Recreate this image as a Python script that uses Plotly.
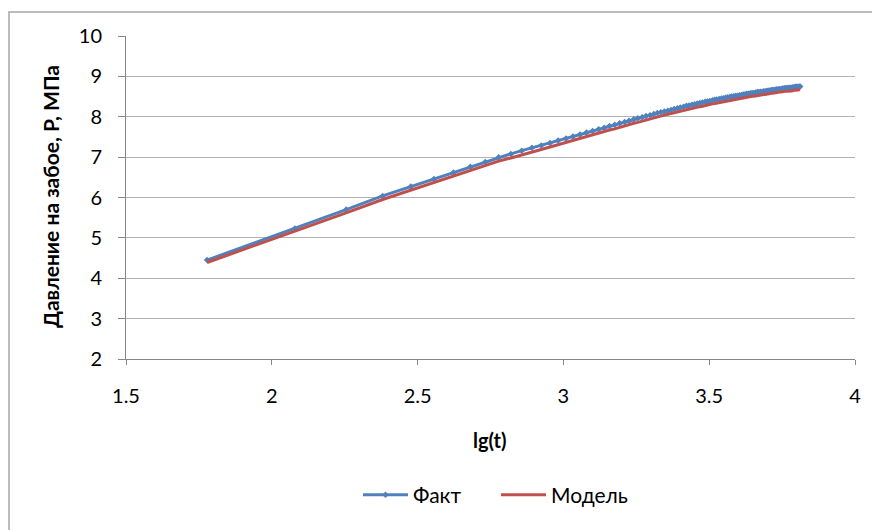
import plotly.graph_objects as go

# lg(t) values
lg_t = [1.778, 2.079, 2.255, 2.380, 2.477, 2.556, 2.623, 2.681, 2.732, 2.778,
        2.820, 2.857, 2.892, 2.924, 2.954, 2.982, 3.009, 3.033, 3.057, 3.079,
        3.100, 3.121, 3.140, 3.158, 3.176, 3.193, 3.210, 3.225, 3.241, 3.255,
        3.270, 3.283, 3.297, 3.310, 3.322, 3.334, 3.346, 3.358, 3.369, 3.380,
        3.391, 3.401, 3.412, 3.422, 3.431, 3.441, 3.450, 3.459, 3.468, 3.477,
        3.486, 3.494, 3.502, 3.511, 3.519, 3.526, 3.534, 3.542, 3.549, 3.556,
        3.563, 3.571, 3.577, 3.584, 3.591, 3.598, 3.604, 3.611, 3.617, 3.623,
        3.629, 3.635, 3.641, 3.647, 3.653, 3.659, 3.665, 3.670, 3.676, 3.681,
        3.687, 3.692, 3.697, 3.702, 3.708, 3.713, 3.718, 3.723, 3.728, 3.732,
        3.737, 3.742, 3.747, 3.751, 3.756, 3.760, 3.765, 3.769, 3.774, 3.778,
        3.783, 3.787, 3.791, 3.795, 3.799, 3.804, 3.808, 3.812]

fact = [4.45, 5.23, 5.70, 6.04, 6.27, 6.46, 6.62, 6.76, 6.88, 7.00,
        7.08, 7.16, 7.23, 7.29, 7.35, 7.41, 7.46, 7.51, 7.56, 7.61,
        7.65, 7.69, 7.73, 7.77, 7.80, 7.84, 7.87, 7.90, 7.94, 7.96,
        7.99, 8.02, 8.04, 8.07, 8.09, 8.11, 8.13, 8.15, 8.17, 8.19,
        8.21, 8.23, 8.25, 8.27, 8.28, 8.30, 8.31, 8.33, 8.34, 8.35,
        8.37, 8.38, 8.39, 8.41, 8.42, 8.43, 8.44, 8.45, 8.46, 8.47,
        8.48, 8.49, 8.50, 8.51, 8.52, 8.52, 8.53, 8.54, 8.55, 8.56,
        8.57, 8.57, 8.58, 8.59, 8.59, 8.60, 8.61, 8.61, 8.62, 8.62,
        8.63, 8.63, 8.64, 8.65, 8.65, 8.66, 8.66, 8.67, 8.67, 8.68,
        8.68, 8.69, 8.69, 8.70, 8.70, 8.71, 8.71, 8.71, 8.72, 8.72,
        8.72, 8.73, 8.73, 8.74, 8.74, 8.74, 8.75, 8.75]

model = [4.39, 5.16, 5.62, 5.95, 6.18, 6.37, 6.53, 6.67, 6.79, 6.90,
         6.98, 7.06, 7.13, 7.19, 7.25, 7.31, 7.36, 7.41, 7.46, 7.51,
         7.55, 7.59, 7.63, 7.67, 7.70, 7.74, 7.77, 7.80, 7.84, 7.86,
         7.89, 7.93, 7.95, 7.98, 8.00, 8.02, 8.04, 8.06, 8.08, 8.10,
         8.12, 8.14, 8.16, 8.18, 8.19, 8.21, 8.22, 8.24, 8.25, 8.26,
         8.28, 8.29, 8.30, 8.32, 8.33, 8.34, 8.36, 8.37, 8.38, 8.39,
         8.40, 8.41, 8.42, 8.43, 8.44, 8.44, 8.45, 8.46, 8.47, 8.48,
         8.49, 8.49, 8.50, 8.51, 8.51, 8.52, 8.53, 8.53, 8.54, 8.54,
         8.55, 8.55, 8.56, 8.57, 8.57, 8.58, 8.58, 8.59, 8.59, 8.60,
         8.60, 8.61, 8.61, 8.62, 8.62, 8.63, 8.63, 8.63, 8.64, 8.64,
         8.64, 8.65, 8.65, 8.66, 8.66, 8.66, 8.67, 8.67]

series_names = ["Факт", "Модель"]
x_title = "lg(t)"
y_title = "Давление на забое, P, МПа"

BLUE = "#4F81BD"
RED = "#C0504D"
FONT = "Lato"

fig = go.Figure()
fig.add_trace(go.Scatter(x=lg_t, y=fact, mode="lines+markers", name=series_names[0],
                         line=dict(color=BLUE, width=3),
                         marker=dict(symbol="diamond", size=5, color=BLUE)))
fig.add_trace(go.Scatter(x=lg_t, y=model, mode="lines", name=series_names[1],
                         line=dict(color=RED, width=3)))

L, R, T, B = 126, 17, 36, 171
W, H = 872, 530
pw, ph = W - L - R, H - T - B

def px_x(p):
    return (p - L) / pw

def px_y(p):
    return (H - B - p) / ph

fig.update_layout(
    width=W, height=H,
    margin=dict(l=L, r=R, t=T, b=B),
    paper_bgcolor="white", plot_bgcolor="white",
    font=dict(family=FONT, size=20, color="#000000"),
    showlegend=True,
    legend=dict(orientation="h", x=px_x(358), xanchor="left", y=px_y(495), yanchor="middle",
                font=dict(family=FONT, size=21), itemwidth=45, tracegroupgap=0,
                entrywidth=78, entrywidthmode="pixels",
                bgcolor="rgba(0,0,0,0)"),
    xaxis=dict(range=[1.5, 4], dtick=0.5, tick0=1.5, showgrid=False, zeroline=False,
               showline=True, linecolor="#868686", linewidth=1,
               ticks="outside", ticklen=5, tickcolor="#868686",
               ticklabelstandoff=14, tickfont=dict(family=FONT, size=20)),
    yaxis=dict(range=[2, 10], dtick=1, showgrid=True, gridcolor="#b3b3b3", gridwidth=1,
               zeroline=False, showline=True, linecolor="#868686", linewidth=1,
               ticks="outside", ticklen=7, tickcolor="#868686",
               ticklabelstandoff=12, tickfont=dict(family=FONT, size=20)),
    annotations=[
        dict(text=f"<b>{x_title}</b>", xref="paper", yref="paper", x=px_x(490), y=px_y(440),
             xanchor="center", yanchor="middle", showarrow=False, font=dict(family=FONT, size=20)),
        dict(text=f"<b>{y_title}</b>", xref="paper", yref="paper", x=px_x(50), y=px_y(197),
             xanchor="center", yanchor="middle", textangle=-90, showarrow=False,
             font=dict(family=FONT, size=21)),
    ],
    shapes=[dict(type="rect", xref="paper", yref="paper",
                 x0=px_x(9), x1=px_x(890), y0=px_y(550), y1=px_y(12),
                 line=dict(color="#a6a6a6", width=1.5), fillcolor="rgba(0,0,0,0)", layer="below")],
)

fig.write_html("out.html")
